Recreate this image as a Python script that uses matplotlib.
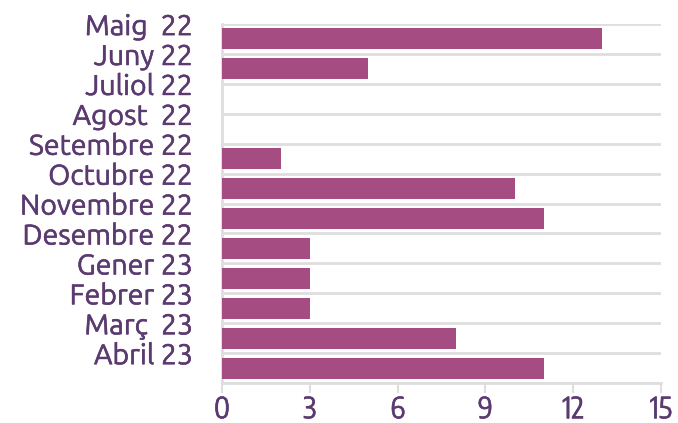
import matplotlib
matplotlib.use("Agg")
import matplotlib.pyplot as plt
import matplotlib.patheffects as pe
from matplotlib import font_manager

categories = ["Maig  22", "Juny 22", "Juliol 22", "Agost  22", "Setembre 22", "Octubre 22",
              "Novembre 22", "Desembre 22", "Gener 23", "Febrer 23", "Març  23", "Abril 23"]
values = [13, 5, 0, 0, 2, 10, 11, 3, 3, 3, 8, 11]
xticks = [0, 3, 6, 9, 12, 15]

names = {f.name for f in font_manager.fontManager.ttflist}
lab_fam = "Ubuntu" if "Ubuntu" in names else "DejaVu Sans"
tick_fam = "Encode Sans Condensed" if "Encode Sans Condensed" in names else "DejaVu Sans"
plt.rcParams['font.family'] = [lab_fam, 'DejaVu Sans']

text_color = "#5b3a70"
bar_color = "#a54c82"
grid_color = "#dedede"

fig = plt.figure(figsize=(6.78, 4.23), dpi=100)
ax = fig.add_axes([222/678, 1-383/423, (661-222)/678, (383-24)/423])

n = len(categories)
pos = list(range(n))
ax.barh(pos, values, height=0.7, color=bar_color, zorder=3)

ax.set_xlim(0, 15)
ax.set_ylim(n - 0.5, -0.5)

thick = [pe.withStroke(linewidth=0.4, foreground=text_color)]

ax.set_yticks([p - 0.5 for p in pos])
ax.set_yticklabels(categories, fontsize=20.5, color=text_color)
ax.tick_params(axis='y', length=0, pad=21)
for lbl in ax.get_yticklabels():
    lbl.set_verticalalignment('center_baseline')
    lbl.set_path_effects(thick)
for b in [p - 0.5 for p in pos] + [n - 0.5]:
    ax.axhline(b, color=grid_color, lw=2, zorder=1)

ax.set_xticks(xticks)
ax.set_xticklabels([str(t) for t in xticks], fontsize=21, color=text_color,
                   family=[tick_fam, 'DejaVu Sans'])
ax.tick_params(axis='x', length=7, width=1.5, color=grid_color, pad=1.5)
for lbl in ax.get_xticklabels():
    lbl.set_path_effects(thick)

for s in ["top", "right"]:
    ax.spines[s].set_visible(False)
ax.spines["left"].set_color(grid_color)
ax.spines["left"].set_linewidth(2)
ax.spines["bottom"].set_color(grid_color)
ax.spines["bottom"].set_linewidth(2)

fig.savefig("out.png", dpi=100)
